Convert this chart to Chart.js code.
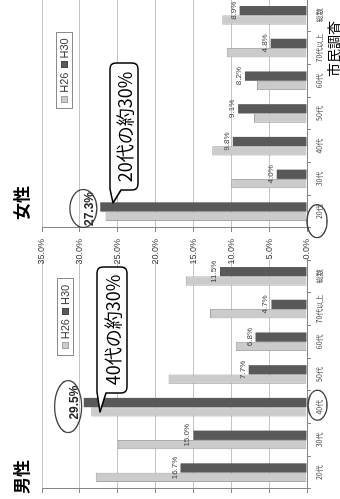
<!DOCTYPE html>
<html>
<head>
<meta charset="utf-8">
<script src="https://cdn.jsdelivr.net/npm/chart.js@4/dist/chart.umd.min.js"></script>
<style>
html,body{margin:0;padding:0;width:340px;height:499px;overflow:hidden;background:#fff;}
#stage{position:absolute;left:0;top:0;width:499px;height:340px;transform-origin:0 0;transform:translate(0px,499px) rotate(-90deg);overflow:hidden;background:#fff;font-family:"Noto Sans CJK JP",sans-serif;}
canvas{position:absolute;top:0;}
.title{position:absolute;font-weight:bold;font-size:17px;line-height:1;color:#000;white-space:nowrap;}
.legend{position:absolute;box-sizing:border-box;height:17px;border:1px solid #8c8c8c;background:#fff;display:flex;align-items:center;justify-content:center;font-family:"Liberation Sans",Arial,sans-serif;font-size:11px;color:#404040;line-height:1;}
.sw{display:inline-block;width:7px;height:7px;box-sizing:border-box;margin-right:3px;}
.lt{margin-right:4px;}
.bubble{position:absolute;left:0;top:0;}
.btext{position:absolute;font-size:18px;line-height:1;color:#000;white-space:nowrap;transform:translate(-50%,-50%);}
.note{position:absolute;font-size:14px;line-height:1;color:#000;white-space:nowrap;}
</style>
</head>
<body>
<div id="stage">
  <canvas id="maleChart" width="290" height="340" style="left:-50px;width:290px;height:340px"></canvas>
  <canvas id="femaleChart" width="290" height="340" style="left:210px;width:290px;height:340px"></canvas>
  <svg class="bubble" width="499" height="340">
    <path d="M107 97 H226 Q232 97 232 103 V121 Q232 127 226 127 H112 Q106 127 106 121 V106 L87 100 Z" fill="#fff" stroke="#000" stroke-width="1.5" stroke-linejoin="round"/>
    <path d="M310 110 H430 Q436 110 436 116 V132 Q436 138 430 138 H315 Q309 138 309 132 V121 L296 113 Z" fill="#fff" stroke="#000" stroke-width="1.5" stroke-linejoin="round"/>
  </svg>
  <div class="btext" id="callout0" style="left:169px;top:112px"></div>
  <div class="btext" id="callout1" style="left:372px;top:124px"></div>
  <div class="title" id="title0" style="left:5px;top:12px"></div>
  <div class="title" id="title1" style="left:279px;top:12px"></div>
  <div class="legend" id="legend0" style="left:143px;top:57px;width:78px"></div>
  <div class="legend" id="legend1" style="left:390px;top:56px;width:77px"></div>
  <div class="note" id="note" style="left:422px;top:326px"></div>
</div>
<script>
const categories = ['20代','30代','40代','50代','60代','70代以上','総数'];
const seriesNames = ['H26','H30'];
const maleH26 = [27.9, 25.0, 28.5, 18.3, 9.4, 12.8, 16.0];
const maleH30 = [16.7, 15.0, 29.5, 7.7, 6.8, 4.7, 11.5];
const femaleH26 = [26.6, 10.0, 12.5, 7.0, 6.6, 10.6, 11.2];
const femaleH30 = [27.3, 4.0, 9.8, 9.1, 8.2, 4.8, 8.9];
const valueTickLabels = ['0.0%','5.0%','10.0%','15.0%','20.0%','25.0%','30.0%','35.0%'];
const panelTitles = ['男性','女性'];
const calloutTexts = ['40代の約30%','20代の約30%'];
const sourceNote = '市民調査';

const seriesColors = ['#cbcbcb','#595959'];
const seriesBorders = ['#a3a3a3','#595959'];
const seriesBorderWidths = [1, 0];

document.getElementById('title0').textContent = panelTitles[0];
document.getElementById('title1').textContent = panelTitles[1];
document.getElementById('callout0').textContent = calloutTexts[0];
document.getElementById('callout1').textContent = calloutTexts[1];
document.getElementById('note').textContent = sourceNote;
['legend0','legend1'].forEach(id => {
  const el = document.getElementById(id);
  seriesNames.forEach((n, i) => {
    const sw = document.createElement('span');
    sw.className = 'sw';
    sw.style.background = seriesColors[i];
    sw.style.border = '1px solid ' + (i === 0 ? seriesBorders[i] : '#474747');
    const t = document.createElement('span');
    t.className = 'lt';
    t.textContent = n;
    if (i === seriesNames.length - 1) t.style.marginRight = '0';
    el.appendChild(sw); el.appendChild(t);
  });
});

const labelPlugin = {
  id: 'barLabels',
  afterDatasetsDraw(chart, args, o) {
    const ctx = chart.ctx;
    const meta = chart.getDatasetMeta(1);
    const vals = chart.data.datasets[1].data;
    const maxIdx = vals.indexOf(Math.max(...vals));
    ctx.save();
    ctx.textAlign = 'center';
    ctx.textBaseline = 'alphabetic';
    ctx.strokeStyle = '#404040';
    ctx.lineWidth = 1.3;
    meta.data.forEach((el, i) => {
      const txt = vals[i].toFixed(1) + '%';
      if (i === maxIdx) {
        ctx.font = 'bold 12px "Liberation Sans", Arial, sans-serif';
        ctx.fillStyle = '#262626';
        ctx.fillText(txt, el.x + o.hlDx, el.y + o.hlDy);
        ctx.beginPath();
        ctx.ellipse(el.x + o.elDx, el.y + o.elDy, o.elRx, o.elRy, 0, 0, Math.PI * 2);
        ctx.stroke();
      } else {
        ctx.font = '8px "Liberation Sans Narrow", "Liberation Sans", Arial, sans-serif';
        ctx.fillStyle = '#404040';
        ctx.fillText(txt, el.x, el.y - 4);
      }
    });
    const cx = chart.scales.x.getPixelForValue(maxIdx) + o.catDx;
    ctx.beginPath();
    ctx.ellipse(cx, o.catCy, o.catRx, o.catRy, 0, 0, Math.PI * 2);
    ctx.stroke();
    ctx.restore();
  }
};

function makeChart(id, h26, h30, cfg) {
  return new Chart(document.getElementById(id), {
    type: 'bar',
    data: {
      labels: categories,
      datasets: [h26, h30].map((d, i) => ({
        label: seriesNames[i],
        data: d,
        backgroundColor: seriesColors[i],
        borderColor: seriesBorders[i],
        borderWidth: seriesBorderWidths[i],
        borderSkipped: 'start',
        categoryPercentage: 0.57,
        barPercentage: 1
      }))
    },
    options: {
      responsive: false,
      animation: false,
      devicePixelRatio: 1,
      layout: { padding: { top: 42, right: cfg.right, left: 0, bottom: 0 } },
      plugins: { legend: { display: false }, tooltip: { enabled: false }, barLabels: cfg.labels },
      scales: {
        x: {
          grid: { drawOnChartArea: false, drawTicks: true, tickLength: 4, tickColor: '#868686', offset: true },
          border: { color: '#868686' },
          ticks: { font: { size: 7, family: '"Noto Sans CJK JP", sans-serif' }, color: '#404040', padding: 4, maxRotation: 0, autoSkip: false },
          afterFit(s) { s.height = 33; }
        },
        y: {
          min: 0, max: 35,
          ticks: {
            stepSize: 5,
            callback: (v, i) => valueTickLabels[i],
            font: { size: 9, family: '"Liberation Sans Narrow", "Liberation Sans", Arial, sans-serif' },
            color: '#404040',
            padding: 7
          },
          grid: { color: '#c4c4c4', tickLength: 4, tickColor: '#868686' },
          border: { color: '#868686' },
          afterFit(s) { s.width = cfg.yw; }
        }
      }
    },
    plugins: [labelPlugin]
  });
}

makeChart('maleChart', maleH26, maleH30, {
  right: 1, yw: 60,
  labels: { hlDx: 0, hlDy: -6, elDx: -4, elDy: -15.5, elRx: 26, elRy: 13.5, catDx: 2, catCy: 317.5, catRx: 15, catRy: 9.5 }
});
makeChart('femaleChart', femaleH26, femaleH30, {
  right: 0, yw: 61,
  labels: { hlDx: -2, hlDy: -7.5, elDx: -1.5, elDy: -17, elRx: 19, elRy: 13.5, catDx: -9.5, catCy: 317, catRx: 16.5, catRy: 10 }
});
</script>
</body>
</html>
